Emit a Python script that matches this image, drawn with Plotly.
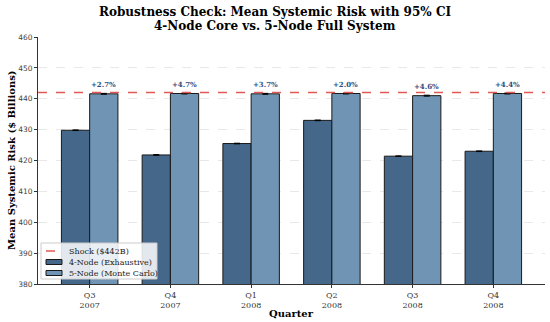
import plotly.graph_objects as go

quarters = ["Q3<br>2007", "Q4<br>2007", "Q1<br>2008", "Q2<br>2008", "Q3<br>2008", "Q4<br>2008"]
node4 = [429.8, 421.8, 425.5, 433.0, 421.4, 423.0]
node4_ci = [0.1, 0.1, 0.1, 0.1, 0.1, 0.1]
node5 = [441.6, 441.7, 441.6, 441.7, 441.0, 441.7]
node5_ci = [0.15, 0.15, 0.15, 0.15, 0.15, 0.15]
pct_labels = ["+2.7%", "+4.7%", "+3.7%", "+2.0%", "+4.6%", "+4.4%"]
shock = 442
x_range = [-0.64, 5.64]
legend_names = ["Shock ($442B)", "4-Node (Exhaustive)", "5-Node (Monte Carlo)"]

W, H = 550, 322
ML, MR, MT, MB = 38, 5, 37, 38
PW, PH = W - ML - MR, H - MT - MB
C4, C5, CS = "#44678a", "#7094b4", "#e05a55"

xs = list(range(len(quarters)))
bw = 0.35
serif = "DejaVu Serif"


def px(X):
    return (X - ML) / PW


def py(Y):
    return (H - MB - Y) / PH


fig = go.Figure()
fig.add_trace(go.Scatter(
    x=x_range, y=[shock, shock], mode="lines",
    line=dict(color=CS, dash="dash", width=1.5),
    name=legend_names[0], hoverinfo="skip", showlegend=False))
fig.add_trace(go.Bar(
    x=[x - bw / 2 for x in xs], y=node4, width=bw,
    marker=dict(color=C4, line=dict(color="#1a1a1a", width=1)),
    error_y=dict(type="data", array=node4_ci, color="black", thickness=1, width=3),
    name=legend_names[1], showlegend=False))
fig.add_trace(go.Bar(
    x=[x + bw / 2 for x in xs], y=node5, width=bw,
    marker=dict(color=C5, line=dict(color="#1a1a1a", width=1)),
    error_y=dict(type="data", array=node5_ci, color="black", thickness=1, width=3),
    name=legend_names[2], showlegend=False))

for x, v, c, t in zip(xs, node5, node5_ci, pct_labels):
    fig.add_annotation(x=x + bw / 2, y=v + c, text="<b>" + t + "</b>", showarrow=False,
                       yanchor="bottom", yshift=2,
                       font=dict(family=serif, size=7, color="#2b4c7e"))

# Titles
fig.add_annotation(xref="paper", yref="paper", x=px(275), y=py(12), text="<b>Robustness Check: Mean Systemic Risk with 95% CI</b>",
                   showarrow=False, xanchor="center", yanchor="middle",
                   font=dict(family=serif, size=12, color="black"))
fig.add_annotation(xref="paper", yref="paper", x=px(275), y=py(26), text="<b>4-Node Core vs. 5-Node Full System</b>",
                   showarrow=False, xanchor="center", yanchor="middle",
                   font=dict(family=serif, size=12, color="black"))
fig.add_annotation(xref="paper", yref="paper", x=px(291), y=py(313), text="<b>Quarter</b>",
                   showarrow=False, xanchor="center", yanchor="middle",
                   font=dict(family=serif, size=10, color="black"))
fig.add_annotation(xref="paper", yref="paper", x=px(11), y=py(160), text="<b>Mean Systemic Risk ($ Billions)</b>",
                   showarrow=False, xanchor="center", yanchor="middle", textangle=-90,
                   font=dict(family=serif, size=10, color="black"))

# Custom legend
shapes = [dict(type="rect", xref="paper", yref="paper", x0=px(41), x1=px(157), y0=py(279), y1=py(243),
               fillcolor="rgba(255,255,255,0.85)", line=dict(color="#cccccc", width=1), layer="above")]
shapes.append(dict(type="line", xref="paper", yref="paper", x0=px(46), x1=px(61), y0=py(251), y1=py(251),
                   line=dict(color=CS, dash="dash", width=1.5), layer="above"))
for Y, col in [(262, C4), (273, C5)]:
    shapes.append(dict(type="rect", xref="paper", yref="paper", x0=px(46), x1=px(62), y0=py(Y + 2.5), y1=py(Y - 2.5),
                       fillcolor=col, line=dict(color="#1a1a1a", width=1), layer="above"))
for Y, name in zip([251, 262, 273], legend_names):
    fig.add_annotation(xref="paper", yref="paper", x=px(67), y=py(Y), text=name, showarrow=False,
                       xanchor="left", yanchor="middle", font=dict(family=serif, size=8, color="#222"))

fig.update_layout(
    width=W, height=H,
    margin=dict(l=ML, r=MR, t=MT, b=MB, autoexpand=False),
    paper_bgcolor="white", plot_bgcolor="white",
    barmode="overlay",
    showlegend=False,
    shapes=shapes,
    xaxis=dict(range=x_range, tickmode="array", tickvals=xs, ticktext=quarters, automargin=False,
               showgrid=False, zeroline=False, showline=True, linecolor="#333", linewidth=1,
               ticks="outside", ticklen=3, tickcolor="#333",
               tickfont=dict(family=serif, size=8, color="#333")),
    yaxis=dict(range=[380, 460], dtick=10, showgrid=True, gridcolor="rgba(190,190,190,0.35)", griddash="dash",
               gridwidth=0.6, zeroline=False, showline=True, linecolor="#333", linewidth=1,
               automargin=False, ticks="outside", ticklen=3, tickcolor="#333", layer="above traces",
               tickfont=dict(family="DejaVu Sans", size=7.5, color="#444")),
)

fig.write_html("out.html", config={"displayModeBar": False},
               post_script="document.body.style.margin='0';document.body.style.overflow='hidden';")
